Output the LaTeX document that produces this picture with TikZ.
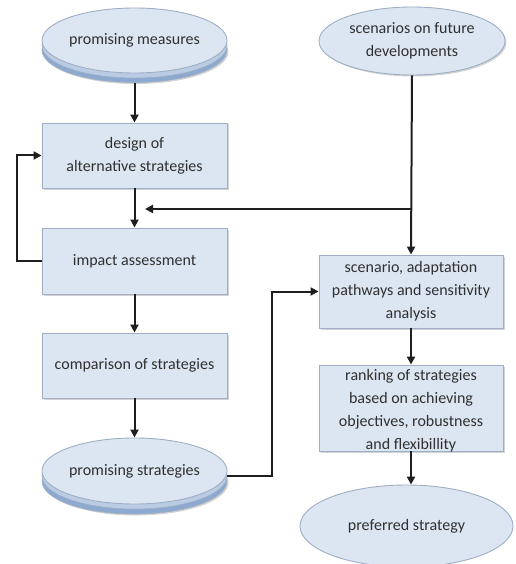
\documentclass[tikz,border=0pt]{standalone}
\usepackage{fontspec}
\setmainfont{Carlito}
\usetikzlibrary{shapes.geometric,shadows,arrows.meta,calc}
\definecolor{boxfill}{HTML}{DCE6F2}
\definecolor{boxline}{HTML}{9FAEC4}
\definecolor{stackmid}{HTML}{B9CCE4}
\definecolor{stackdark}{HTML}{8EA9CF}
\definecolor{txt}{HTML}{303030}
\definecolor{wire}{HTML}{1E1E1E}
\begin{document}
\begin{tikzpicture}[x=1pt,y=-1pt,
  every node/.style={font=\fontsize{16}{23}\selectfont, text=txt, align=center},
  stepbox/.style={rectangle, draw=boxline, fill=boxfill, line width=0.9pt,
    drop shadow={shadow xshift=1.5pt, shadow yshift=-1.5pt, opacity=0.35},
    minimum width=185pt, inner sep=0pt},
  oval/.style={ellipse, draw=boxline, fill=boxfill, line width=0.9pt,
    inner sep=0pt},
  ovalmid/.style={ellipse, draw=boxline, fill=stackmid, line width=0.6pt, inner sep=0pt},
  ovaldark/.style={ellipse, draw=boxline, fill=stackdark, line width=0.6pt, inner sep=0pt,
    drop shadow={shadow xshift=1.5pt, shadow yshift=-1.5pt, opacity=0.35}},
  flow/.style={draw=wire, line width=2pt, -{Triangle[length=8pt,width=8pt]}}
]
\useasboundingbox (0,0) rectangle (515,564);

% stacked oval: promising measures
\node[ovaldark, minimum width=185pt, minimum height=65pt] (pmb) at (134.5,50) {};
\node[ovalmid, minimum width=185pt, minimum height=65pt] (pmm) at (134.5,45.5) {};
\node[oval, minimum width=185pt, minimum height=65pt] (pm) at (134.5,40.5) {promising measures};

% single oval: scenarios
\node[oval, minimum width=186pt, minimum height=68pt,
  drop shadow={shadow xshift=1.5pt, shadow yshift=-1.5pt, opacity=0.35}] (sc) at (412,41)
  {scenarios on future\\developments};

% left column boxes
\node[stepbox, minimum height=65pt] (design) at (134.5,155.5) {design of\\alternative strategies};
\node[stepbox, minimum height=66pt] (impact) at (134.5,261) {impact assessment};
\node[stepbox, minimum height=65pt] (compare) at (134.5,365.5) {comparison of strategies};

% stacked oval: promising strategies
\node[ovaldark, minimum width=185pt, minimum height=66pt] (psb) at (134.5,481) {};
\node[ovalmid, minimum width=185pt, minimum height=66pt] (psm) at (134.5,476) {};
\node[oval, minimum width=185pt, minimum height=66pt] (ps) at (134.5,471) {promising strategies};

% right column boxes
\node[stepbox, minimum width=184pt, minimum height=73pt] (scen) at (411,291.5)
  {scenario, adaptation\\pathways and sensitivity\\analysis};
\node[stepbox, minimum width=184pt, minimum height=86pt] (rank) at (411,408) {};
\node[text=txt] (ranktxt) at (411,410.5)
  {ranking of strategies\\based on achieving\\objectives, robustness\\and flexibillity};
\node[oval, minimum width=213pt, minimum height=82pt] (pref) at (406.5,526)
  {preferred strategy};

% connectors
\draw[flow] (pmb.south) -- (design.north);
\draw[flow] (design.south) -- (impact.north);
\draw[flow] (impact.west) -- ++(-25,0) |- (design.west);
\draw[flow] (impact.south) -- (compare.north);
\draw[flow] (compare.south) -- (ps.north);

\coordinate (split) at (sc.south |- 0,209);
\coordinate (joinin) at (145,209);
\draw[flow] (sc.south) -- (scen.north);
\draw[flow] (split) -- (joinin);

\draw[flow] (psm.east) -- ++(45,0) |- (scen.west);
\draw[flow] (scen.south) -- (rank.north);
\draw[flow] (rank.south) -- (rank.south |- pref.north);
\end{tikzpicture}
\end{document}
